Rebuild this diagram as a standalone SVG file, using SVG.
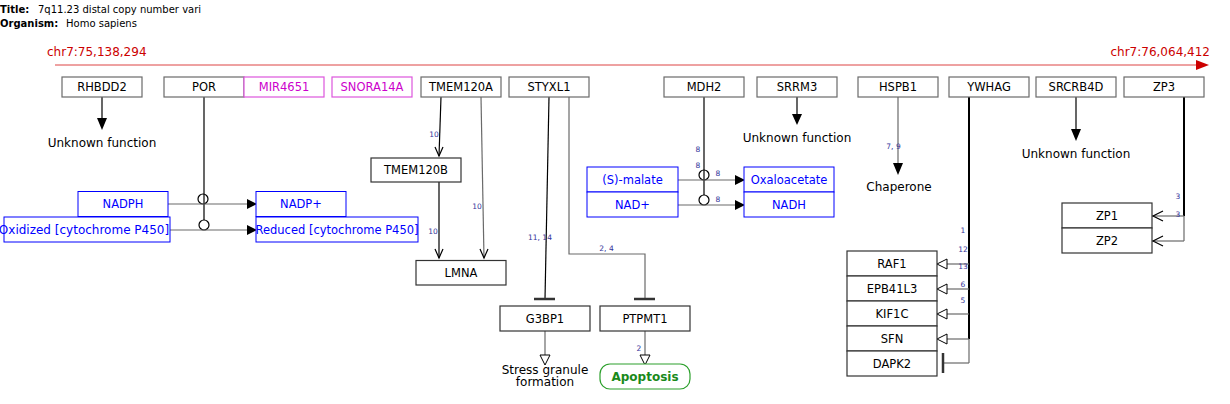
<svg xmlns="http://www.w3.org/2000/svg" width="1230" height="404" viewBox="0 0 1230 404">
<style>
text{font-family:"DejaVu Sans","Liberation Sans",sans-serif}
.n{fill:#fff;stroke:#6a6a6a;stroke-width:1.2}
.nd{fill:#fff;stroke:#333;stroke-width:1.2}
.t{font-size:11.5px;fill:#000;text-anchor:middle}
.mg{fill:#fff;stroke:#dd55dd;stroke-width:1.2}
.mt{font-size:11.5px;fill:#cc00cc;text-anchor:middle}
.b{fill:#fff;stroke:#0000ff;stroke-width:1}
.bt{font-size:11.5px;fill:#0000ff;text-anchor:middle}
.lbl{font-size:12px;text-anchor:middle;fill:#000}
.e{fill:none;stroke:#6a6a6a;stroke-width:1.2}
.ek{fill:none;stroke:#000;stroke-width:1.2}
.ew{fill:none;stroke:#000;stroke-width:2}
.fa{fill:#000;stroke:none}
.oa{fill:#fff;stroke:#000;stroke-width:1}
.va{fill:none;stroke:#000;stroke-width:1.2}
.tb{fill:none;stroke:#333;stroke-width:2.5}
.num{font-size:7.5px;fill:#33339a;text-anchor:middle}
.chr{font-size:12px;fill:#cc0000}
</style>
<rect x="0" y="0" width="1230" height="404" fill="#fff"/>

<g id="header">
<text x="0" y="13" style="font-size:10px;font-weight:bold">Title:</text>
<text x="38" y="13" style="font-size:10px">7q11.23 distal copy number vari</text>
<text x="0" y="27" style="font-size:10px;font-weight:bold">Organism:</text>
<text x="66" y="27" style="font-size:10px">Homo sapiens</text>
</g>

<g id="chromosome">
<text class="chr" x="47" y="56">chr7:75,138,294</text>
<text class="chr" x="1210" y="56" text-anchor="end">chr7:76,064,412</text>
<line x1="55" y1="65" x2="1198" y2="65" stroke="#dd4444" stroke-width="1"/>
<polygon points="1196,60 1209,65 1196,70" fill="#cc0000"/>
</g>

<g id="connectors">
<line class="ek" x1="102" y1="97" x2="102" y2="119"/>
<polygon class="fa" points="97,118 107,118 102,130"/>
<line class="ek" x1="797" y1="97" x2="797" y2="115"/>
<polygon class="fa" points="792,114 802,114 797,125"/>
<line class="ek" x1="1076" y1="97" x2="1076" y2="130"/>
<polygon class="fa" points="1071,129 1081,129 1076,141"/>
<line class="e" x1="898" y1="97" x2="898" y2="164"/>
<polygon class="fa" points="893,163 903,163 898,175"/>
<text class="num" x="893.5" y="148.5">7, 9</text>
<line class="ek" x1="204" y1="97" x2="204" y2="220"/>
<circle cx="203" cy="199" r="5" fill="none" stroke="#000" stroke-width="1.2"/>
<circle cx="204" cy="225" r="5" fill="none" stroke="#000" stroke-width="1.2"/>
<line class="e" x1="168" y1="204" x2="248" y2="204"/>
<polygon class="fa" points="247,199 257,204 247,209"/>
<line class="e" x1="170" y1="230" x2="248" y2="230"/>
<polygon class="fa" points="247,225 257,230 247,235"/>
<line class="ek" x1="441" y1="97" x2="439" y2="156"/>
<polyline class="va" points="435,147 439,156 443,147"/>
<text class="num" x="434" y="136.5">10</text>
<line class="e" x1="481" y1="97" x2="484" y2="258"/>
<polyline class="va" points="480,249 484,258 488,249"/>
<text class="num" x="477" y="209">10</text>
<line class="ek" x1="439" y1="182" x2="439" y2="258"/>
<polyline class="va" points="435,249 439,258 443,249"/>
<text class="num" x="433" y="234">10</text>
<line class="ek" x1="549" y1="97" x2="545" y2="299"/>
<line class="tb" x1="534" y1="299" x2="555" y2="299"/>
<text class="num" x="540" y="240">11, 14</text>
<path class="e" d="M569,97 V254 H645 V299"/>
<line class="tb" x1="634" y1="299" x2="655" y2="299"/>
<text class="num" x="606.5" y="251">2, 4</text>
<line class="e" x1="545" y1="331" x2="545" y2="355"/>
<polygon class="oa" points="540,355 550,355 545,365"/>
<line class="e" x1="645" y1="331" x2="645" y2="355"/>
<polygon class="oa" points="640,355 650,355 645,365"/>
<text class="num" x="639" y="351">2</text>
<line class="ek" x1="704" y1="97" x2="704" y2="195"/>
<circle cx="704" cy="175" r="5" fill="none" stroke="#000" stroke-width="1.2"/>
<circle cx="704" cy="200" r="5" fill="none" stroke="#000" stroke-width="1.2"/>
<line class="e" x1="678" y1="180" x2="736" y2="180"/>
<polygon class="fa" points="735,175 745,180 735,185"/>
<line class="e" x1="678" y1="205" x2="736" y2="205"/>
<polygon class="fa" points="735,200 745,205 735,210"/>
<text class="num" x="698" y="152">8</text>
<text class="num" x="698" y="168">8</text>
<text class="num" x="718" y="176">8</text>
<text class="num" x="718" y="202">8</text>
<line class="ew" x1="969" y1="97" x2="969" y2="339"/>
<line class="e" x1="969" y1="339" x2="969" y2="363"/>
<line class="e" x1="947" y1="264" x2="969" y2="264"/>
<polygon class="oa" points="937,264 947,259 947,269"/>
<line class="e" x1="947" y1="289" x2="969" y2="289"/>
<polygon class="oa" points="937,289 947,284 947,294"/>
<line class="e" x1="947" y1="314" x2="969" y2="314"/>
<polygon class="oa" points="937,314 947,309 947,319"/>
<line class="e" x1="947" y1="339" x2="969" y2="339"/>
<polygon class="oa" points="937,339 947,334 947,344"/>
<line class="e" x1="943" y1="363" x2="969" y2="363"/>
<line class="tb" x1="943" y1="353" x2="943" y2="373"/>
<text class="num" x="963" y="233">1</text>
<text class="num" x="963" y="251.5">12</text>
<text class="num" x="963" y="268.5">13</text>
<text class="num" x="963" y="286.5">6</text>
<text class="num" x="963" y="303">5</text>
<line class="ew" x1="1184" y1="97" x2="1184" y2="216"/>
<line class="e" x1="1184" y1="216" x2="1184" y2="241"/>
<line class="e" x1="1152" y1="216" x2="1184" y2="216"/>
<polyline class="va" points="1163,211 1153,216 1163,221"/>
<line class="e" x1="1152" y1="241" x2="1184" y2="241"/>
<polyline class="va" points="1163,236 1153,241 1163,246"/>
<text class="num" x="1178" y="199">3</text>
<text class="num" x="1178" y="217">3</text>
</g>

<g id="RHBDD2"><rect class="n" x="62" y="77" width="80" height="20"/><text class="t" x="102" y="91">RHBDD2</text></g>
<g id="POR"><rect class="n" x="164" y="77" width="80" height="20"/><text class="t" x="204" y="91">POR</text></g>
<g id="MIR4651"><rect class="mg" x="244" y="77" width="80" height="20"/><text class="mt" x="284" y="91">MIR4651</text></g>
<g id="SNORA14A"><rect class="mg" x="332" y="77" width="80" height="20"/><text class="mt" x="372" y="91">SNORA14A</text></g>
<g id="TMEM120A"><rect class="n" x="421" y="77" width="80" height="20"/><text class="t" x="461" y="91">TMEM120A</text></g>
<g id="STYXL1"><rect class="n" x="509" y="77" width="80" height="20"/><text class="t" x="549" y="91">STYXL1</text></g>
<g id="MDH2"><rect class="n" x="664" y="77" width="80" height="20"/><text class="t" x="704" y="91">MDH2</text></g>
<g id="SRRM3"><rect class="n" x="757" y="77" width="80" height="20"/><text class="t" x="797" y="91">SRRM3</text></g>
<g id="HSPB1"><rect class="n" x="858" y="77" width="80" height="20"/><text class="t" x="898" y="91">HSPB1</text></g>
<g id="YWHAG"><rect class="n" x="949" y="77" width="80" height="20"/><text class="t" x="989" y="91">YWHAG</text></g>
<g id="SRCRB4D"><rect class="n" x="1036" y="77" width="80" height="20"/><text class="t" x="1076" y="91">SRCRB4D</text></g>
<g id="ZP3"><rect class="n" x="1124" y="77" width="80" height="20"/><text class="t" x="1164" y="91">ZP3</text></g>

<g id="label-unknown-1"><text class="lbl" x="102" y="147">Unknown function</text></g>
<g id="label-unknown-2"><text class="lbl" x="797" y="142">Unknown function</text></g>
<g id="label-unknown-3"><text class="lbl" x="1076" y="158">Unknown function</text></g>
<g id="label-chaperone"><text class="lbl" x="899" y="191">Chaperone</text></g>
<g id="label-stress"><text class="lbl" x="545" y="374">Stress granule</text><text class="lbl" x="545" y="386">formation</text></g>

<g id="NADPH"><rect class="b" x="78" y="191.5" width="90" height="25"/><text class="bt" x="123" y="208">NADPH</text></g>
<g id="Oxidized-P450"><rect class="b" x="4" y="217" width="166" height="25"/><text class="bt" x="84" y="233.5" style="font-size:12px">Oxidized [cytochrome P450]</text></g>
<g id="NADPplus"><rect class="b" x="256" y="191.5" width="90" height="25"/><text class="bt" x="301" y="208">NADP+</text></g>
<g id="Reduced-P450"><rect class="b" x="256" y="217" width="162" height="25"/><text class="bt" x="337" y="233.5">Reduced [cytochrome P450]</text></g>

<g id="TMEM120B"><rect class="nd" x="371" y="158" width="90" height="24"/><text class="t" x="416" y="174">TMEM120B</text></g>
<g id="LMNA"><rect class="nd" x="416" y="260.5" width="90" height="24.5"/><text class="t" x="461" y="277">LMNA</text></g>
<g id="G3BP1"><rect class="nd" x="500" y="306" width="90" height="25"/><text class="t" x="545" y="322.5">G3BP1</text></g>
<g id="PTPMT1"><rect class="nd" x="600" y="306" width="90" height="25"/><text class="t" x="645" y="322.5">PTPMT1</text></g>
<g id="Apoptosis"><rect x="600" y="364" width="90" height="25" rx="10" fill="#fff" stroke="#2ca02c" stroke-width="1.2"/><text x="645" y="381" text-anchor="middle" style="font-size:12px;font-weight:bold;fill:#1a8a1a">Apoptosis</text></g>

<g id="S-malate"><rect class="b" x="587" y="167" width="91" height="25"/><text class="bt" x="632.5" y="183.5">(S)-malate</text></g>
<g id="NADplus"><rect class="b" x="587" y="192" width="91" height="25"/><text class="bt" x="632.5" y="208.5">NAD+</text></g>
<g id="Oxaloacetate"><rect class="b" x="744" y="167" width="90" height="25"/><text class="bt" x="789" y="183.5">Oxaloacetate</text></g>
<g id="NADH"><rect class="b" x="744" y="192" width="90" height="25"/><text class="bt" x="789" y="208.5">NADH</text></g>

<g id="RAF1"><rect class="nd" x="847" y="251" width="90" height="25"/><text class="t" x="892" y="268">RAF1</text></g>
<g id="EPB41L3"><rect class="nd" x="847" y="276" width="90" height="25"/><text class="t" x="892" y="293">EPB41L3</text></g>
<g id="KIF1C"><rect class="nd" x="847" y="301" width="90" height="25"/><text class="t" x="892" y="318">KIF1C</text></g>
<g id="SFN"><rect class="nd" x="847" y="326" width="90" height="25"/><text class="t" x="892" y="343">SFN</text></g>
<g id="DAPK2"><rect class="nd" x="847" y="351" width="90" height="25"/><text class="t" x="892" y="368">DAPK2</text></g>

<g id="ZP1"><rect class="nd" x="1062" y="203" width="90" height="25"/><text class="t" x="1107" y="220">ZP1</text></g>
<g id="ZP2"><rect class="nd" x="1062" y="228" width="90" height="25"/><text class="t" x="1107" y="245">ZP2</text></g>
</svg>
